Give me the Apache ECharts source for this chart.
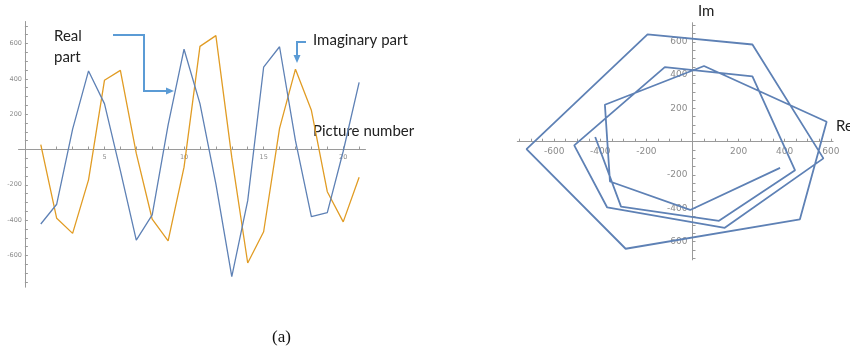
<!DOCTYPE html>
<html>
<head>
<meta charset="utf-8">
<script src="https://cdn.jsdelivr.net/npm/echarts@6/dist/echarts.min.js"></script>
<style>
  html, body { margin: 0; padding: 0; background: #fff; }
  #chart { width: 850px; height: 352px; }
</style>
</head>
<body>
<div id="chart"></div>
<script>
// picture number 1..21
var pictureNumbers = [1, 2, 3, 4, 5, 6, 7, 8, 9, 10, 11, 12, 13, 14, 15, 16, 17, 18, 19, 20, 21];
var realPart = [-422, -310, 115, 445, 260, -120, -513, -370, 140, 568, 260, -195, -720, -290, 466, 582, 50, -380, -358, -10, 380];
var imagPart = [28, -390, -475, -172, 392, 448, -22, -395, -517, -100, 584, 645, -45, -643, -466, 120, 455, 222, -239, -410, -157];

var leftXTicks = pictureNumbers;
var leftXLabels = [5, 10, 15, 20];
var yTicks = [-750, -700, -650, -600, -550, -500, -450, -400, -350, -300, -250, -200, -150, -100, -50,
    50, 100, 150, 200, 250, 300, 350, 400, 450, 500, 550, 600, 650, 700];
var yLabels = [-600, -400, -200, 200, 400, 600];
var reTicks = [-750, -700, -650, -600, -550, -500, -450, -400, -350, -300, -250, -200, -150, -100, -50,
    50, 100, 150, 200, 250, 300, 350, 400, 450, 500, 550, 600];
var reLabels = [-600, -400, -200, 200, 400, 600];

var BLUE = '#5E81B5';
var ORANGE = '#E19C24';
var ARROW = '#5B9BD5';
var AXIS = '#9a9a9a';

// axes are pushed from the grid edge onto the zero line with offset
function valueAxis(idx, min, max, ticks, labels, pos, offset, fontSize, margin) {
    return {
        type: 'value',
        gridIndex: idx,
        min: min,
        max: max,
        position: pos,
        offset: offset,
        splitLine: { show: false },
        axisLine: { show: true, onZero: false, lineStyle: { color: AXIS, width: 1 } },
        axisTick: { show: true, inside: true, length: 3, customValues: ticks, lineStyle: { color: AXIS } },
        axisLabel: {
            customValues: labels,
            color: '#8c8c8c',
            fontSize: fontSize,
            fontFamily: 'DejaVu Sans',
            margin: margin
        }
    };
}

var realSeries = pictureNumbers.map(function (n, i) { return [n, realPart[i]]; });
var imagSeries = pictureNumbers.map(function (n, i) { return [n, imagPart[i]]; });
var planeSeries = realPart.map(function (re, i) { return [re, imagPart[i]]; });

var chart = echarts.init(document.getElementById('chart'), null, { renderer: 'canvas' });

chart.setOption({
    animation: false,
    backgroundColor: '#fff',
    grid: [
        { left: 18.5, top: 21.5, width: 347, height: 265.7, containLabel: false },
        { left: 517.3, top: 22.7, width: 315.8, height: 237.2, containLabel: false }
    ],
    xAxis: [
        valueAxis(0, -0.4, 21.4, leftXTicks, leftXLabels, 'bottom', -137.7, 6.5, 4),
        valueAxis(1, -760, 610, reTicks, reLabels, 'bottom', -118.2, 9, 5)
    ],
    yAxis: [
        valueAxis(0, -780, 725, yTicks, yLabels, 'left', -6.4, 6.5, 3),
        valueAxis(1, -710, 715, yTicks, yLabels, 'left', -175.2, 9, 5)
    ],
    series: [
        {
            name: 'Real part', type: 'line', xAxisIndex: 0, yAxisIndex: 0,
            data: realSeries, showSymbol: false,
            lineStyle: { color: BLUE, width: 1.3 }, z: 3
        },
        {
            name: 'Imaginary part', type: 'line', xAxisIndex: 0, yAxisIndex: 0,
            data: imagSeries, showSymbol: false,
            lineStyle: { color: ORANGE, width: 1.3 }, z: 2
        },
        {
            name: 'Re/Im', type: 'line', xAxisIndex: 1, yAxisIndex: 1,
            data: planeSeries, showSymbol: false,
            lineStyle: { color: BLUE, width: 1.8 }
        }
    ],
    graphic: [
        // annotations on the left plot
        { type: 'text', left: 54, top: 26, style: { text: 'Real\npart', fontSize: 15, lineHeight: 21, fontFamily: 'Lato', fill: '#222' } },
        { type: 'polyline', shape: { points: [[113, 35], [144, 35], [144, 91], [167, 91]] }, style: { stroke: ARROW, lineWidth: 2, fill: null } },
        { type: 'polygon', shape: { points: [[174, 91], [166, 87.5], [166, 94.5]] }, style: { fill: ARROW } },
        { type: 'text', left: 313, top: 33, style: { text: 'Imaginary part', fontSize: 15, fontFamily: 'Lato', fill: '#222' } },
        { type: 'polyline', shape: { points: [[306, 42], [297, 42], [297, 56]] }, style: { stroke: ARROW, lineWidth: 2, fill: null } },
        { type: 'polygon', shape: { points: [[297, 63], [293.5, 55], [300.5, 55]] }, style: { fill: ARROW } },
        { type: 'text', left: 313, top: 124, style: { text: 'Picture number', fontSize: 15, fontFamily: 'Lato', fill: '#222' } },
        { type: 'text', left: 272, top: 329, style: { text: '(a)', fontSize: 17, fontFamily: 'Liberation Serif', fill: '#111' } },
        // axis names on the right plot
        { type: 'text', left: 698, top: 4, style: { text: 'Im', fontSize: 15, fontFamily: 'Lato', fill: '#222' } },
        { type: 'text', left: 836, top: 119, style: { text: 'Re', fontSize: 15, fontFamily: 'Lato', fill: '#222' } }
    ]
});
</script>
</body>
</html>
